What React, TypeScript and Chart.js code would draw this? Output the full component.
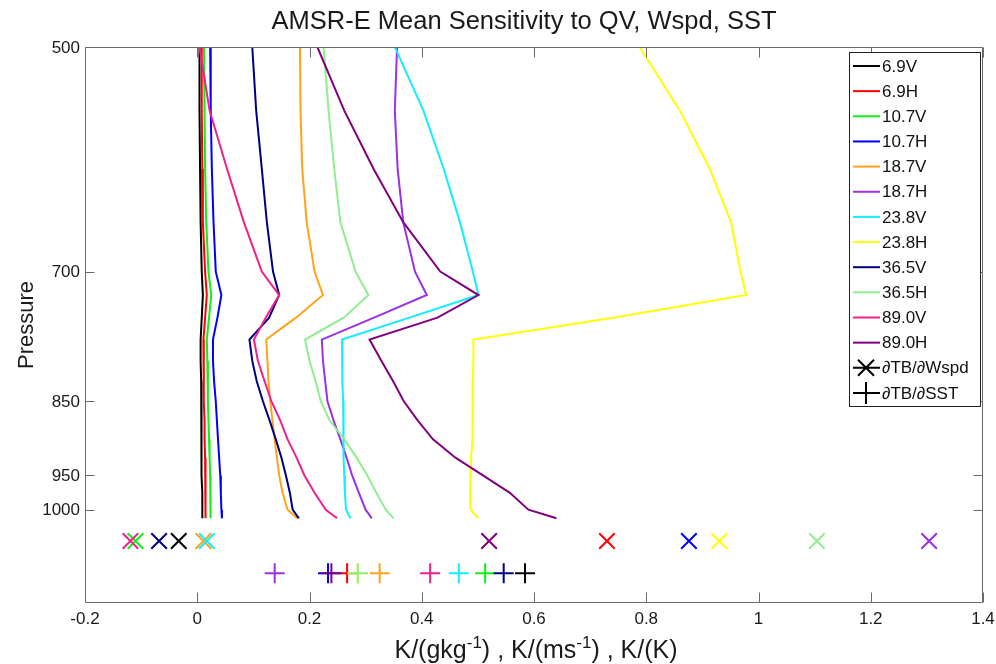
import React, { useEffect, useRef } from 'react';
import { Chart, registerables } from 'chart.js';

Chart.register(...registerables);

// ---------------- data ----------------
const pressureLevels = [500, 550, 600, 650, 700, 725, 750, 775, 800, 825, 850, 875, 900, 925, 950, 975, 1000, 1013];

const channelNames = ['6.9V', '6.9H', '10.7V', '10.7H', '18.7V', '18.7H', '23.8V', '23.8H', '36.5V', '36.5H', '89.0V', '89.0H'];
const channelColors = ['#000000', '#ff0000', '#11ee11', '#0000ff', '#ffa31a', '#9b30e6', '#11eeff', '#ffff00', '#000080', '#90ee90', '#f0208a', '#800080'];

// dTB/dQV profiles (K/(g/kg)) per channel, at pressureLevels
const qv_6_9V = [0.004, 0.004, 0.005, 0.006, 0.008, 0.010, 0.008, 0.006, 0.006, 0.007, 0.007, 0.007, 0.008, 0.008, 0.008, 0.009, 0.009, 0.009];
const qv_6_9H = [0.008, 0.008, 0.009, 0.010, 0.014, 0.017, 0.014, 0.011, 0.011, 0.012, 0.012, 0.013, 0.013, 0.014, 0.014, 0.015, 0.015, 0.015];
const qv_10_7V = [0.012, 0.013, 0.014, 0.016, 0.020, 0.025, 0.021, 0.017, 0.018, 0.019, 0.019, 0.020, 0.021, 0.022, 0.023, 0.023, 0.024, 0.024];
const qv_10_7H = [0.023, 0.024, 0.026, 0.029, 0.033, 0.043, 0.036, 0.028, 0.028, 0.030, 0.033, 0.035, 0.037, 0.039, 0.041, 0.042, 0.043, 0.044];
const qv_18_7V = [0.183, 0.184, 0.187, 0.195, 0.209, 0.224, 0.176, 0.123, 0.125, 0.127, 0.130, 0.134, 0.138, 0.142, 0.146, 0.152, 0.161, 0.178];
const qv_18_7H = [0.356, 0.352, 0.357, 0.367, 0.388, 0.409, 0.315, 0.222, 0.224, 0.228, 0.232, 0.243, 0.255, 0.266, 0.276, 0.288, 0.300, 0.311];
const qv_23_8V = [0.352, 0.403, 0.439, 0.468, 0.491, 0.501, 0.378, 0.258, 0.258, 0.259, 0.260, 0.260, 0.261, 0.261, 0.262, 0.263, 0.265, 0.273];
const qv_23_8H = [0.788, 0.860, 0.913, 0.951, 0.968, 0.978, 0.741, 0.492, 0.492, 0.491, 0.491, 0.490, 0.490, 0.488, 0.487, 0.486, 0.487, 0.501];
const qv_36_5V = [0.098, 0.105, 0.115, 0.124, 0.135, 0.146, 0.128, 0.093, 0.098, 0.106, 0.117, 0.129, 0.140, 0.150, 0.158, 0.165, 0.170, 0.181];
const qv_36_5H = [0.225, 0.234, 0.244, 0.255, 0.282, 0.305, 0.261, 0.192, 0.200, 0.211, 0.220, 0.236, 0.262, 0.284, 0.303, 0.319, 0.336, 0.350];
const qv_89_0V = [0.004, 0.022, 0.053, 0.083, 0.115, 0.146, 0.122, 0.101, 0.108, 0.120, 0.132, 0.148, 0.161, 0.177, 0.191, 0.209, 0.229, 0.249];
const qv_89_0H = [0.214, 0.262, 0.314, 0.367, 0.433, 0.501, 0.428, 0.307, 0.328, 0.349, 0.368, 0.393, 0.420, 0.460, 0.509, 0.557, 0.590, 0.640];

const qvProfiles = [qv_6_9V, qv_6_9H, qv_10_7V, qv_10_7H, qv_18_7V, qv_18_7H, qv_23_8V, qv_23_8H, qv_36_5V, qv_36_5H, qv_89_0V, qv_89_0H];

// dTB/dWspd (K/(m/s)) and dTB/dSST (K/K) per channel
const wspdSensitivity = [-0.033, 0.730, -0.110, 0.876, 0.011, 1.304, 0.017, 0.930, -0.068, 1.104, -0.119, 0.520];
const sstSensitivity = [0.584, 0.267, 0.513, 0.233, 0.325, 0.138, 0.466, 0.286, 0.546, 0.286, 0.415, 0.239];
// pressure rows (below the surface) where the scalar sensitivities are plotted
const wspdRowPressure = 1048;
const sstRowPressure = 1100;

const xTickValues = [-0.2, 0, 0.2, 0.4, 0.6, 0.8, 1, 1.2, 1.4];
const xTickLabels = ['-0.2', '0', '0.2', '0.4', '0.6', '0.8', '1', '1.2', '1.4'];
const yTickValues = [500, 700, 850, 950, 1000];
const yTickLabels = ['500', '700', '850', '950', '1000'];

const titleText = 'AMSR-E Mean Sensitivity to QV, Wspd, SST';
const yAxisTitle = 'Pressure';
const xAxisTitleParts = [
  { text: 'K/(gkg', sup: false },
  { text: '-1', sup: true },
  { text: ') , K/(ms', sup: false },
  { text: '-1', sup: true },
  { text: ') , K/(K)', sup: false },
];
const legendMarkerLabels = ['\u2202TB/\u2202Wspd', '\u2202TB/\u2202SST'];

// ---------------- drawing ----------------
const FONT = '"Liberation Sans", Arial, Helvetica, sans-serif';

const decorPlugin = {
  id: 'matlabDecor',
  afterDraw(chart: any) {
    const { ctx, chartArea } = chart;
    const { left, right, top, bottom } = chartArea;
    const xs = chart.scales.x;
    const ys = chart.scales.y;
    ctx.save();

    // axes box
    ctx.strokeStyle = '#6a6a6a';
    ctx.lineWidth = 1;
    const L = Math.round(left) + 0.5, R = Math.round(right) - 0.5, T = Math.round(top) + 0.5, B = Math.round(bottom) - 0.5;
    ctx.beginPath();
    ctx.moveTo(L, T); ctx.lineTo(R, T); ctx.lineTo(R, B); ctx.lineTo(L, B); ctx.closePath();
    ctx.stroke();

    // inward ticks
    ctx.beginPath();
    xTickValues.forEach((v) => {
      const px = Math.round(xs.getPixelForValue(v)) + 0.5;
      ctx.moveTo(px, B); ctx.lineTo(px, B - 10);
      ctx.moveTo(px, T); ctx.lineTo(px, T + 10);
    });
    yTickValues.forEach((v) => {
      const py = Math.round(ys.getPixelForValue(v)) + 0.5;
      ctx.moveTo(L, py); ctx.lineTo(L + 9, py);
      ctx.moveTo(R, py); ctx.lineTo(R - 9, py);
    });
    ctx.stroke();

    // tick labels
    ctx.fillStyle = '#1a1a1a';
    ctx.font = `17px ${FONT}`;
    ctx.textAlign = 'center';
    ctx.textBaseline = 'alphabetic';
    xTickValues.forEach((v, i) => {
      ctx.fillText(xTickLabels[i], xs.getPixelForValue(v), bottom + 21);
    });
    ctx.textAlign = 'right';
    ctx.textBaseline = 'middle';
    yTickValues.forEach((v, i) => {
      ctx.fillText(yTickLabels[i], left - 5, ys.getPixelForValue(v) + 1);
    });

    // title
    ctx.font = `25.5px ${FONT}`;
    ctx.textAlign = 'center';
    ctx.textBaseline = 'alphabetic';
    ctx.fillText(titleText, 524, 29);

    // y axis title
    ctx.save();
    ctx.translate(27, (top + bottom) / 2);
    ctx.rotate(-Math.PI / 2);
    ctx.font = `22px ${FONT}`;
    ctx.textAlign = 'center';
    ctx.textBaseline = 'middle';
    ctx.fillText(yAxisTitle, 0, 0);
    ctx.restore();

    // x axis title with superscripts
    const mainFont = `25px ${FONT}`;
    const supFont = `17px ${FONT}`;
    let total = 0;
    xAxisTitleParts.forEach((p) => {
      ctx.font = p.sup ? supFont : mainFont;
      total += ctx.measureText(p.text).width;
    });
    let cx = 536 - total / 2;
    const baseY = 658;
    ctx.textAlign = 'left';
    ctx.textBaseline = 'alphabetic';
    xAxisTitleParts.forEach((p) => {
      ctx.font = p.sup ? supFont : mainFont;
      ctx.fillText(p.text, cx, p.sup ? baseY - 10 : baseY);
      cx += ctx.measureText(p.text).width;
    });

    // legend
    const lx1 = 849.5, ly1 = 52.5, lx2 = 980.5, ly2 = 406.5;
    ctx.fillStyle = '#ffffff';
    ctx.fillRect(lx1, ly1, lx2 - lx1, ly2 - ly1);
    ctx.strokeStyle = '#222222';
    ctx.lineWidth = 1;
    ctx.strokeRect(lx1, ly1, lx2 - lx1, ly2 - ly1);
    const rowY = (i: number) => 66 + i * 25.15;
    ctx.font = `17px ${FONT}`;
    ctx.textAlign = 'left';
    ctx.textBaseline = 'middle';
    channelNames.forEach((name, i) => {
      const y = rowY(i);
      ctx.strokeStyle = channelColors[i];
      ctx.lineWidth = 2;
      ctx.beginPath();
      ctx.moveTo(853, y); ctx.lineTo(880, y);
      ctx.stroke();
      ctx.fillStyle = '#111111';
      ctx.fillText(name, 882, y + 1);
    });
    legendMarkerLabels.forEach((label, k) => {
      const y = rowY(12 + k);
      const mx = 866;
      ctx.strokeStyle = '#000000';
      ctx.lineWidth = 2;
      ctx.beginPath();
      ctx.moveTo(853, y); ctx.lineTo(880, y);
      if (k === 0) {
        ctx.moveTo(mx - 8, y - 8); ctx.lineTo(mx + 8, y + 8);
        ctx.moveTo(mx - 8, y + 8); ctx.lineTo(mx + 8, y - 8);
      } else {
        ctx.moveTo(mx, y - 11); ctx.lineTo(mx, y + 11);
      }
      ctx.stroke();
      ctx.fillStyle = '#111111';
      ctx.fillText(label, 882, y + 1);
    });

    ctx.restore();
  },
};

export default function App() {
  const canvasRef = useRef<HTMLCanvasElement | null>(null);

  useEffect(() => {
    const canvas = canvasRef.current;
    if (!canvas) return;

    const n = channelNames.length;
    const profileSets = qvProfiles.map((vals, i) => ({
      label: channelNames[i],
      data: vals.map((v, j) => ({ x: v, y: pressureLevels[j] })),
      showLine: true,
      borderColor: channelColors[i],
      backgroundColor: channelColors[i],
      borderWidth: 2,
      pointRadius: 0,
      pointHoverRadius: 0,
      tension: 0,
      fill: false,
      order: 100 + (n - i),
    }));

    const wspdSet = {
      label: legendMarkerLabels[0],
      data: wspdSensitivity.map((v) => ({ x: v, y: wspdRowPressure })),
      showLine: false,
      pointStyle: 'crossRot',
      pointRadius: 11,
      pointBorderWidth: 2,
      pointBorderColor: channelColors,
      pointBackgroundColor: channelColors,
      order: 2,
    };
    const sstSet = {
      label: legendMarkerLabels[1],
      data: sstSensitivity.map((v) => ({ x: v, y: sstRowPressure })),
      showLine: false,
      pointStyle: 'cross',
      pointRadius: 10,
      pointBorderWidth: 2,
      pointBorderColor: channelColors,
      pointBackgroundColor: channelColors,
      order: 1,
    };

    const chart = new Chart(canvas, {
      type: 'scatter',
      data: { datasets: [...profileSets, wspdSet, sstSet] as any },
      options: {
        responsive: false,
        animation: false,
        devicePixelRatio: 1,
        layout: { padding: { left: 85, top: 47, right: 13, bottom: 61 } },
        plugins: {
          legend: { display: false },
          tooltip: { enabled: false },
          title: { display: false },
        },
        events: [],
        scales: {
          x: {
            type: 'linear',
            display: false,
            min: -0.2,
            max: 1.4,
          },
          y: {
            type: 'logarithmic',
            display: false,
            reverse: true,
            min: 500,
            max: 1150,
          },
        },
      } as any,
      plugins: [decorPlugin as any],
    });

    return () => {
      chart.destroy();
    };
  }, []);

  return (
    <div style={{ position: 'fixed', left: 0, top: 0, width: 996, height: 664, background: '#ffffff' }}>
      <canvas ref={canvasRef} width={996} height={664} style={{ display: 'block' }} />
    </div>
  );
}
